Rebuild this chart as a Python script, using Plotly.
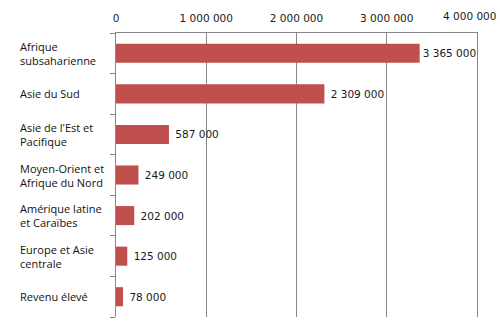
import plotly.graph_objects as go

categories = ["Afrique<br>subsaharienne", "Asie du Sud", "Asie de l'Est et<br>Pacifique",
              "Moyen-Orient et<br>Afrique du Nord", "Amérique latine<br>et Caraïbes",
              "Europe et Asie<br>centrale", "Revenu élevé"]
values = [3365000, 2309000, 587000, 249000, 202000, 125000, 78000]
tick_vals = [0, 1000000, 2000000, 3000000, 4000000]
tick_text = ["0", "1 000 000", "2 000 000", "3 000 000", "4 000 000"]

def fmt(v):
    pad = "" if v > 3000000 else " "
    return pad + f"{v:,}".replace(",", " ")

tick_font = dict(family="DejaVu Sans", size=10.5, color="#1a1a1a")
grey = "#868686"

ids = list(range(len(categories)))
fig = go.Figure(go.Bar(
    x=values, y=ids, orientation="h",
    marker=dict(color="#C0504D", line=dict(width=0)),
    text=[fmt(v) for v in values], textposition="outside",
    textfont=dict(family="DejaVu Sans", size=10.5, color="#1a1a1a"),
    cliponaxis=False, width=0.47,
))

for i, c in enumerate(categories):
    fig.add_annotation(x=-0.271, xref="paper", y=i, yref="y", text=c, showarrow=False,
                       xanchor="left", align="left",
                       font=dict(family="Open Sans", size=11, color="#111"))

# last tick label is pulled inside the page, as in the reference
fig.add_annotation(x=tick_vals[-1], xref="x", y=1, yref="paper", yanchor="bottom",
                   text=tick_text[-1], showarrow=False, xanchor="center", xshift=-8,
                   yshift=9, font=tick_font)

fig.update_layout(
    width=500, height=326, margin=dict(l=116, r=23, t=33, b=9, autoexpand=False),
    paper_bgcolor="white", plot_bgcolor="white", showlegend=False,
    xaxis=dict(side="top", range=[0, 4000000], tickvals=tick_vals,
               ticktext=tick_text[:-1] + [""],
               showgrid=True, gridcolor=grey, gridwidth=1, zeroline=False,
               showline=True, linecolor=grey, linewidth=1, ticks="",
               ticklabelstandoff=6, automargin=False, tickfont=tick_font),
    yaxis=dict(range=[6.5, -0.5], showticklabels=False, showgrid=False, zeroline=False,
               showline=True, mirror=True, linecolor=grey, linewidth=1,
               tickvals=[i + 0.5 for i in range(-1, 7)], ticks="outside", ticklen=5,
               tickcolor=grey),
)
fig.write_html("out.html")
